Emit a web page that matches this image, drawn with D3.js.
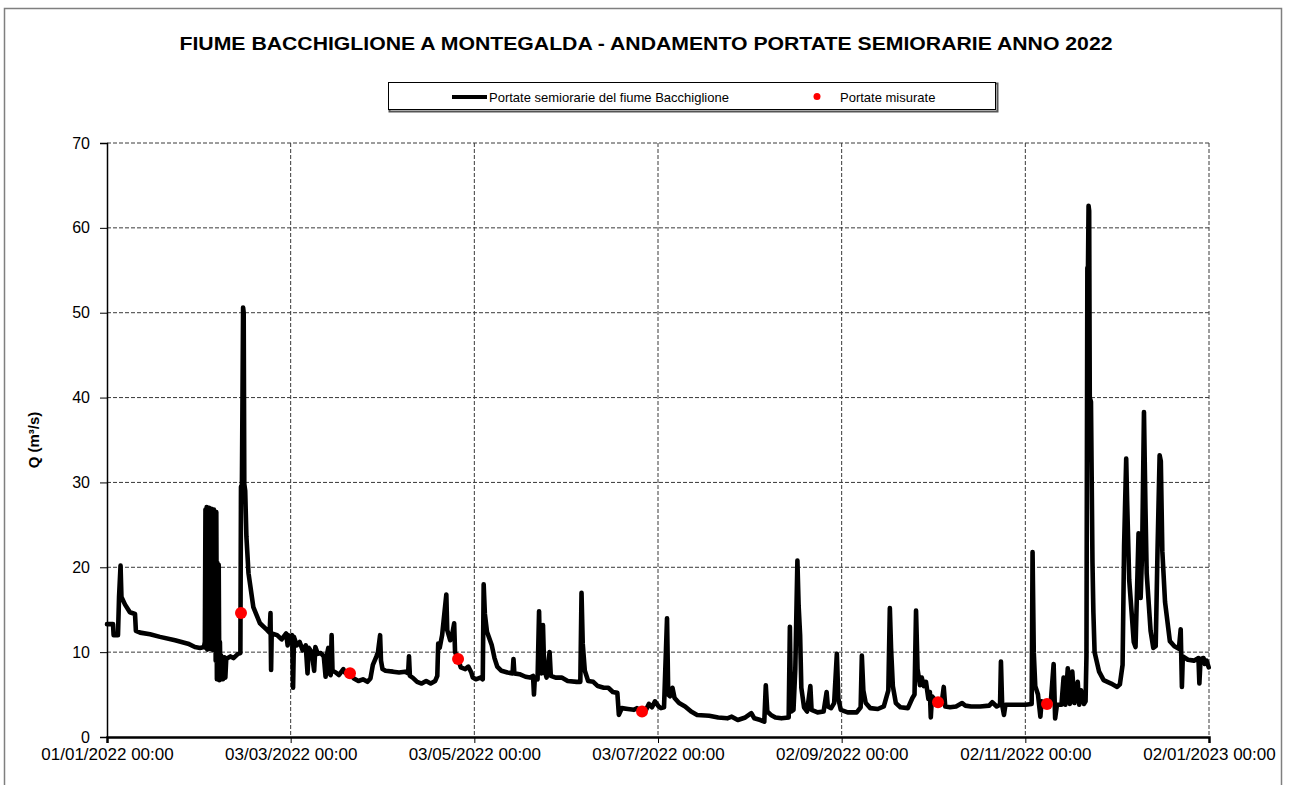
<!DOCTYPE html>
<html>
<head>
<meta charset="utf-8">
<script src="https://cdn.jsdelivr.net/npm/d3@7"></script>
<style>
  body { margin: 0; background: #fff; }
  text { font-family: Arial, "Liberation Sans", sans-serif; }
</style>
</head>
<body>
<script>
// portate semiorarie: [giorni dal 01/01/2022 00:00, Q m3/s]
var portate = [
  [0,13.3],[2.0,13.3],[2.2,12.0],[3.65,12.0],[4.0,16.5],[4.5,20.2],[4.8,16.5],[6.0,15.6],[7.6,14.7],[9.3,14.5],
  [9.6,12.5],[11.0,12.3],[14.3,12.1],[17.6,11.8],[22.6,11.4],[26.9,11.0],[29.2,10.6],[30.9,10.5],[32.2,10.6],[32.5,11.2],
  [32.7,26.8],[32.9,10.5],[33.1,27.1],[33.3,10.3],[33.5,26.5],[33.7,10.6],[33.9,27.0],[34.1,10.4],[34.3,26.2],[34.5,10.5],
  [34.7,26.9],[34.9,10.3],[35.1,26.6],[35.3,10.4],[35.5,26.8],[35.7,10.2],[35.9,26.4],[36.1,9.0],[36.3,26.5],[36.5,6.8],
  [36.7,20.5],[36.9,7.0],[37.1,20.3],[37.3,6.7],[37.5,11.2],[37.7,6.9],[37.9,9.6],
  [38.5,6.8],[39.0,9.4],[39.3,7.0],[39.6,9.2],[41.0,9.5],[42.0,9.3],[43.5,9.8],[44.3,9.9],[44.5,29.5],[44.8,29.5],
  [45.2,50.6],[45.4,50.0],[45.6,29.8],[45.9,29.0],[46.3,23.6],[47.0,19.3],[48.6,15.3],[50.8,13.4],[53.2,12.6],[54.0,12.3],
  [54.3,14.6],[54.5,7.9],[54.7,12.2],[56.5,12.0],[58.0,11.5],[59.5,12.2],[60.0,10.8],[60.3,12.0],[61.0,11.3],[61.5,12.0],
  [61.8,5.8],[62.1,11.8],[63.0,10.8],[64.0,11.2],[65.0,10.2],[66.0,10.8],[66.6,7.5],[67.0,10.5],[68.0,10.0],[68.8,7.8],
  [69.2,10.6],[70.0,9.8],[71.0,9.9],[72.0,9.5],[72.6,7.1],[73.0,9.6],[73.5,10.5],[73.9,7.5],[74.3,7.3],[74.6,12.0],
  [74.9,7.8],[76.0,7.6],[77.0,7.3],[78.5,8.0],[79.0,7.6],[80.7,7.4],[82.0,6.9],[83.5,6.6],[85.0,6.8],[86.5,6.5],
  [87.5,6.9],[88.3,8.5],[89.5,9.5],[90.0,10.0],[90.7,12.0],[91.0,9.0],[91.5,8.0],[92.5,7.8],[95.0,7.7],[97.0,7.6],
  [99.0,7.7],[100.0,7.5],[100.3,9.5],[100.6,7.2],[101.5,7.0],[103.0,6.5],[104.5,6.3],[106.0,6.6],[107.5,6.3],[109.0,6.6],
  [109.7,7.2],[110.0,11.0],[110.5,10.5],[111.3,12.0],[112.7,16.8],[113.0,12.6],[114.0,11.4],[114.6,12.0],[115.3,13.4],[115.6,10.0],
  [116.6,9.2],[117.5,8.2],[119.0,8.0],[120.0,8.3],[121.0,7.6],[121.5,7.0],[122.5,6.8],[124.0,7.0],[124.8,6.8],[125.1,18.0],
  [125.5,14.5],[126.2,12.4],[127.8,10.8],[128.7,9.3],[129.6,8.3],[131,7.8],[133,7.6],[134.7,7.5],[135.0,9.2],[135.3,7.5],
  [137,7.4],[139,7.1],[140.5,7.0],[141.5,7.2],[141.8,5.0],[142.1,7.0],[143.0,6.8],[143.5,14.8],[143.9,8.0],[144.3,7.5],
  [144.8,13.2],[145.2,8.0],[146.0,7.0],[147.0,10.0],[147.4,7.2],[149,7.0],[151,7.0],[153,6.6],[156,6.5],[157.2,6.5],
  [157.6,17.0],[158.0,11.0],[158.7,7.8],[159.8,6.6],[161.5,6.5],[163,6.0],[165,5.8],[166.5,5.8],[168,5.3],[169.5,5.2],
  [170.0,2.6],[171,3.4],[173,3.3],[175,3.2],[176,3.4],[177.7,3.0],[179,3.2],[180,3.9],[181,3.5],[182,4.2],
  [183.2,3.6],[184.0,3.4],[185,3.5],[186.0,14.0],[186.4,5.0],[187,4.8],[187.8,5.8],[188.5,4.6],[190,4.0],[192,3.6],
  [194,3.0],[196,2.6],[200,2.5],[203,2.3],[206,2.2],[207.5,2.4],[209.5,2.0],[212,2.3],[214,2.8],[215,2.2],
  [217,2.0],[218.3,1.8],[218.8,6.1],[219.3,3.0],[220.5,2.6],[222,2.3],[224,2.2],[226.4,2.3],[226.8,13.0],[227.2,3.0],
  [228.0,3.2],[228.6,8.0],[229.3,20.8],[229.7,15.5],[230.2,12.0],[230.6,5.8],[231.5,3.5],[232.5,3.0],[233.6,6.0],[234.0,3.2],
  [236,2.9],[238,3.0],[239.0,5.3],[239.4,3.6],[240.5,3.4],[241.5,4.0],[242.4,9.8],[242.9,4.5],[243.7,3.2],[246,2.9],
  [249.0,2.9],[250.3,3.5],[250.7,9.6],[251.2,5.5],[252,4.0],[253.5,3.4],[256,3.3],[258,3.6],[259.5,5.5],[260.0,15.2],
  [260.4,10.5],[261,6.0],[262,4.0],[263.5,3.5],[266,3.4],[267.5,4.6],[268.2,5.0],[268.7,14.9],[269.2,8.0],[270,6.1],
  [270.6,7.0],[271.3,6.0],[272.0,6.5],[272.8,4.5],[273.3,5.3],[273.6,2.3],[274.0,4.8],[275.2,4.3],[276.0,4.1],[277.3,4.2],
  [277.9,5.9],[278.4,3.6],[280,3.5],[282,3.6],[284,4.0],[285,3.7],[287,3.6],[290,3.6],[293,3.7],[294,4.1],
  [295.5,3.6],[296.6,3.8],[296.9,8.9],[297.3,3.8],[297.9,2.6],[298.4,3.8],[302,3.8],[305,3.8],[307.1,3.9],[307.4,21.8],
  [307.8,10.0],[308.3,6.0],[309.2,5.0],[310.0,2.4],[310.4,4.2],[312.2,3.9],[313.5,4.3],[314.4,8.6],[314.9,2.2],[315.5,3.8],
  [317,3.8],[317.7,7.0],[318.3,3.8],[319.1,8.1],[319.8,3.9],[320.6,7.7],[321.3,4.0],[322.4,6.5],[322.9,3.8],[323.5,5.5],
  [324.5,3.9],[325.0,4.2],[325.3,9.5],[325.6,55.3],[325.8,55.0],[326.0,62.6],[326.2,62.0],[326.4,40.0],[326.8,39.5],[327.3,20.6],
  [327.6,14.7],[328.0,10.0],[329.5,7.7],[331.0,6.7],[333.5,6.3],[335.5,5.9],[336.4,6.2],[337.3,8.5],[337.8,22.5],[338.5,32.8],
  [338.8,27.9],[339.5,18.5],[340.4,14.2],[341.0,11.2],[341.6,10.6],[342.6,24.0],[343.3,16.4],[343.8,22.0],[344.4,38.3],[344.9,27.0],
  [345.3,19.3],[346.6,12.5],[347.5,10.5],[348.3,10.7],[348.9,21.9],[349.6,33.2],[350.0,32.5],[350.5,21.9],[351.4,15.9],[353.0,11.3],
  [354.5,10.7],[356,10.4],[356.6,12.7],[357.0,5.9],[357.3,9.5],[359,9.1],[361,9.0],[362.5,9.3],[362.8,6.3],[363.2,9.2],
  [364.2,9.3],[364.6,8.6],[365.2,9.0],[365.9,8.2]
];

// portate misurate (punti rossi)
var misure = [[44.5,14.6],[80.7,7.5],[116.6,9.2],[177.7,3.0],[276.0,4.1],[312.2,3.9]];

var xTickLabels = ["01/01/2022 00:00","03/03/2022 00:00","03/05/2022 00:00","03/07/2022 00:00",
                   "02/09/2022 00:00","02/11/2022 00:00","02/01/2023 00:00"];
var yTicks = [0,10,20,30,40,50,60,70];

var titolo = "FIUME BACCHIGLIONE A MONTEGALDA - ANDAMENTO PORTATE SEMIORARIE ANNO 2022";
var legendaLinea = "Portate semiorarie del fiume Bacchiglione";
var legendaPunti = "Portate misurate";

var width = 1289,
  height = 785;

var plotLeft = 107, plotRight = 1209, plotTop = 143, plotBottom = 737;

var parseTick = d3.utcParse("%d/%m/%Y %H:%M");
var formatTick = d3.utcFormat("%d/%m/%Y %H:%M");
var t0 = Date.UTC(2022, 0, 1);
var toDate = function (d) { return new Date(t0 + d * 864e5); };

var x = d3.scaleUtc()
  .domain([parseTick(xTickLabels[0]), parseTick(xTickLabels[xTickLabels.length - 1])])
  .range([plotLeft, plotRight]);

var y = d3.scaleLinear().domain([0, 70]).range([plotBottom, plotTop]);

var svg = d3.select("body").append("svg")
  .attr("width", width)
  .attr("height", height);

svg.append("rect")
  .attr("width", width).attr("height", height)
  .attr("fill", "#fff");

// cornice esterna
svg.append("rect")
  .attr("x", 4.5).attr("y", 8.5)
  .attr("width", 1277).attr("height", 820)
  .attr("fill", "none")
  .attr("stroke", "#7f7f7f")
  .attr("stroke-width", 1.5);

// griglia
svg.append("g")
  .selectAll("line")
  .data(yTicks.filter(function (d) { return d > 0; }))
  .enter().append("line")
  .attr("x1", plotLeft).attr("x2", plotRight)
  .attr("y1", function (d) { return y(d); })
  .attr("y2", function (d) { return y(d); })
  .attr("stroke", "#3a3a3a")
  .attr("stroke-dasharray", "4,2");

svg.append("g")
  .selectAll("line")
  .data(xTickLabels.slice(1))
  .enter().append("line")
  .attr("x1", function (d) { return x(parseTick(d)); })
  .attr("x2", function (d) { return x(parseTick(d)); })
  .attr("y1", plotTop).attr("y2", plotBottom)
  .attr("stroke", "#3a3a3a")
  .attr("stroke-dasharray", "4,2");

// assi
var yAxis = svg.append("g")
  .attr("transform", "translate(" + plotLeft + ",0)")
  .call(d3.axisLeft(y).tickValues(yTicks).tickSize(7).tickPadding(10));

var xAxis = svg.append("g")
  .attr("transform", "translate(0," + plotBottom + ")")
  .call(d3.axisBottom(x)
    .tickValues(xTickLabels.map(parseTick))
    .tickFormat(formatTick)
    .tickSize(6).tickPadding(5));

yAxis.select(".domain").attr("stroke", "#000").attr("stroke-width", 1.5);
xAxis.select(".domain").attr("stroke", "#000").attr("stroke-width", 2.5);
yAxis.selectAll("line").attr("stroke", "#000");
xAxis.selectAll("line").attr("stroke", "#000");
yAxis.selectAll("text")
  .attr("fill", "#000")
  .style("font-size", "16px")
  .style("font-family", "Arial, 'Liberation Sans', sans-serif");
xAxis.selectAll("text")
  .attr("fill", "#000")
  .style("font-size", "17px")
  .style("font-family", "Arial, 'Liberation Sans', sans-serif");

// serie
var line = d3.line()
  .x(function (d) { return x(toDate(d[0])); })
  .y(function (d) { return y(d[1]); });

svg.append("path")
  .datum(portate)
  .attr("d", line)
  .attr("fill", "none")
  .attr("stroke", "#000")
  .attr("stroke-width", 4.6)
  .attr("stroke-linejoin", "round")
  .attr("stroke-linecap", "round");

svg.append("g")
  .selectAll("circle")
  .data(misure)
  .enter().append("circle")
  .attr("cx", function (d) { return x(toDate(d[0])); })
  .attr("cy", function (d) { return y(d[1]); })
  .attr("r", 6)
  .attr("fill", "#ff0000");

// titolo
svg.append("text")
  .attr("x", 646).attr("y", 50)
  .attr("text-anchor", "middle")
  .attr("textLength", 933)
  .attr("lengthAdjust", "spacingAndGlyphs")
  .style("font-size", "18px")
  .style("font-weight", "bold")
  .text(titolo);

// titolo asse y
svg.append("text")
  .attr("transform", "translate(39,440) rotate(-90)")
  .attr("text-anchor", "middle")
  .style("font-size", "15px")
  .style("font-weight", "bold")
  .text("Q (m³/s)");

// legenda
var leg = svg.append("g");
leg.append("rect")
  .attr("x", 389.5).attr("y", 83.5)
  .attr("width", 608).attr("height", 28)
  .attr("fill", "none")
  .attr("stroke", "#555")
  .attr("stroke-width", 2);
leg.append("rect")
  .attr("x", 388.5).attr("y", 82.5)
  .attr("width", 607).attr("height", 27)
  .attr("fill", "#fff")
  .attr("stroke", "#000");
leg.append("line")
  .attr("x1", 452).attr("x2", 487)
  .attr("y1", 97).attr("y2", 97)
  .attr("stroke", "#000")
  .attr("stroke-width", 4);
leg.append("text")
  .attr("x", 489).attr("y", 101.5)
  .style("font-size", "13px")
  .text(legendaLinea);
leg.append("circle")
  .attr("cx", 817).attr("cy", 96.5)
  .attr("r", 3.5)
  .attr("fill", "#ff0000");
leg.append("text")
  .attr("x", 840).attr("y", 101.5)
  .style("font-size", "13px")
  .text(legendaPunti);
</script>
</body>
</html>
